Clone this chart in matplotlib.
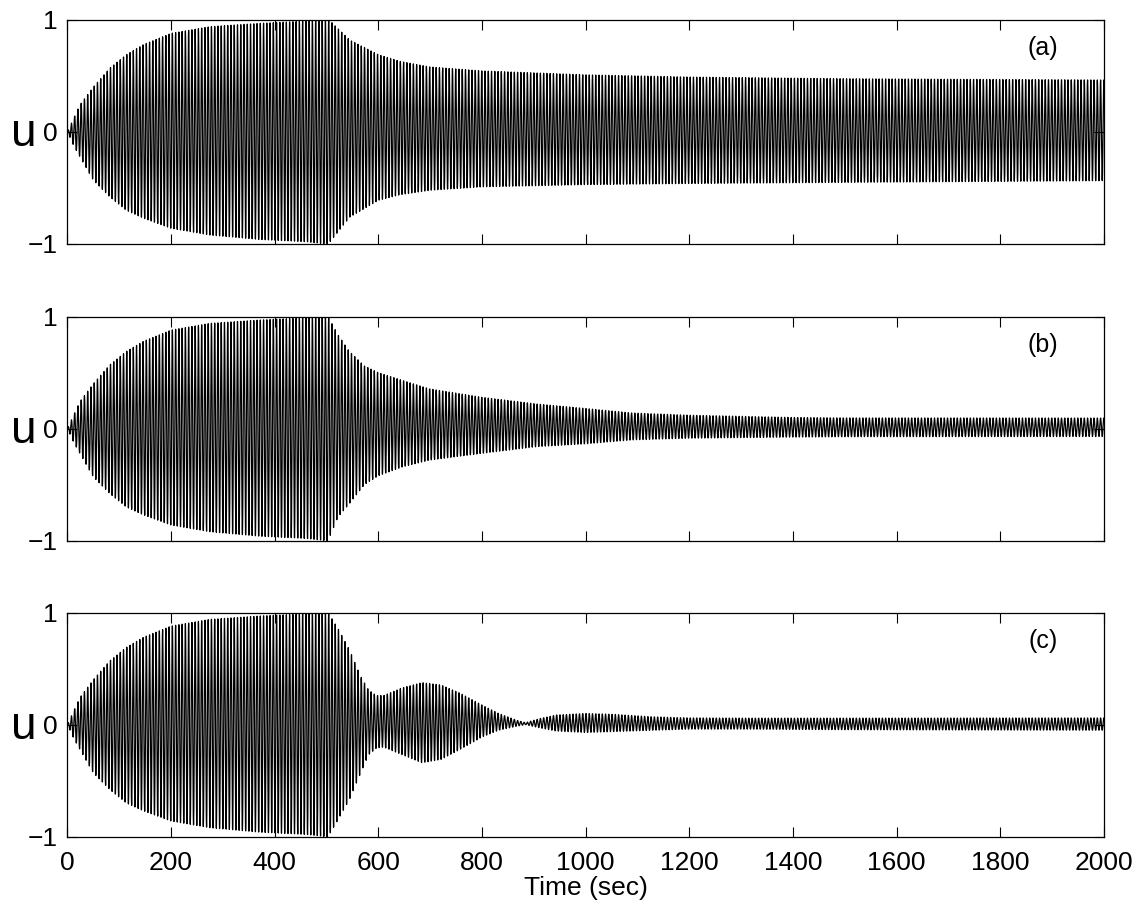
import numpy as np
import matplotlib
matplotlib.use("Agg")
import matplotlib.pyplot as plt

plt.rcParams['font.family'] = ['Liberation Sans', 'DejaVu Sans']

# envelope knots (time in s, upper / lower amplitude)
rise_t = [0, 12, 24, 50, 82, 114, 147, 200, 275, 372, 462, 500]
rise_up = [0, 0.12, 0.24, 0.40, 0.57, 0.69, 0.78, 0.88, 0.94, 0.97, 0.99, 1.0]
rise_lo = [0, -0.12, -0.22, -0.43, -0.58, -0.70, -0.77, -0.86, -0.92, -0.96, -0.98, -1.0]

# panel (a)
a_t = [505, 545, 600, 642, 700, 800, 1000, 1200, 1500, 2000]
a_up = [1.0, 0.82, 0.69, 0.63, 0.58, 0.545, 0.51, 0.49, 0.475, 0.464]
a_lo = [-0.99, -0.76, -0.61, -0.56, -0.52, -0.49, -0.47, -0.46, -0.45, -0.435]

# panel (b)
b_t = [503, 522, 544, 573, 600, 647, 699, 800, 906, 1000, 1090, 1200, 1400, 1500, 2000]
b_up = [1.0, 0.84, 0.69, 0.56, 0.50, 0.43, 0.355, 0.28, 0.22, 0.18, 0.14, 0.12, 0.10, 0.096, 0.095]
b_lo = [-1.0, -0.79, -0.67, -0.50, -0.42, -0.34, -0.28, -0.22, -0.16, -0.135, -0.10, -0.085, -0.075, -0.072, -0.07]

# panel (c)
c_t = [503, 522, 544, 566, 581, 596, 610, 647, 684, 721, 758, 800, 832, 869, 884,
       913, 943, 1000, 1054, 1128, 1200, 1312, 1500, 2000]
c_up = [1.0, 0.86, 0.67, 0.43, 0.31, 0.26, 0.26, 0.33, 0.375, 0.354, 0.28, 0.175, 0.10,
        0.036, 0.018, 0.056, 0.086, 0.10, 0.092, 0.07, 0.06, 0.058, 0.058, 0.06]
c_lo = [-1.0, -0.85, -0.67, -0.43, -0.27, -0.21, -0.20, -0.27, -0.34, -0.31, -0.22, -0.11,
        -0.05, -0.012, 0.0, -0.03, -0.057, -0.07, -0.062, -0.05, -0.04, -0.04, -0.045, -0.05]

panels = [("(a)", a_t, a_up, a_lo),
          ("(b)", b_t, b_up, b_lo),
          ("(c)", c_t, c_up, c_lo)]

xticks = list(range(0, 2001, 200))
yticks = [-1, 0, 1]

t = np.linspace(0, 2000, 60001)

fig = plt.figure(figsize=(11.41, 9.11), dpi=100)
bottoms = [0.7322, 0.4065, 0.0816]

for (tag, kt, ku, kl), bot in zip(panels, bottoms):
    ax = fig.add_axes([0.059, bot, 0.9086, 0.2459])
    tt = rise_t + kt
    up = np.interp(t, tt, rise_up + ku)
    lo = np.interp(t, tt, rise_lo + kl)
    u = 0.5 * (up + lo) + 0.5 * (up - lo) * np.sin(t)
    ax.plot(t, u, color='black', lw=0.9)
    ax.set_xlim(0, 2000)
    ax.set_ylim(-1, 1)
    ax.set_xticks(xticks)
    ax.set_yticks(yticks)
    ax.tick_params(direction='in', length=7, width=0.8, top=True, right=True,
                   labelsize=19)
    ax.tick_params(axis='x', pad=10)
    ax.tick_params(axis='y', pad=7)
    for s in ax.spines.values():
        s.set_linewidth(0.9)
    ax.set_ylabel('u', rotation=0, fontsize=33, ha='center', va='center')
    ax.yaxis.set_label_coords(-0.042, 0.49)
    ax.text(1882, 0.75, tag, fontsize=18, ha='center', va='center')
    if tag != "(c)":
        ax.set_xticklabels([])
    else:
        ax.set_xlabel('Time (sec)', fontsize=19, labelpad=1)

fig.savefig('out.png', dpi=100)
